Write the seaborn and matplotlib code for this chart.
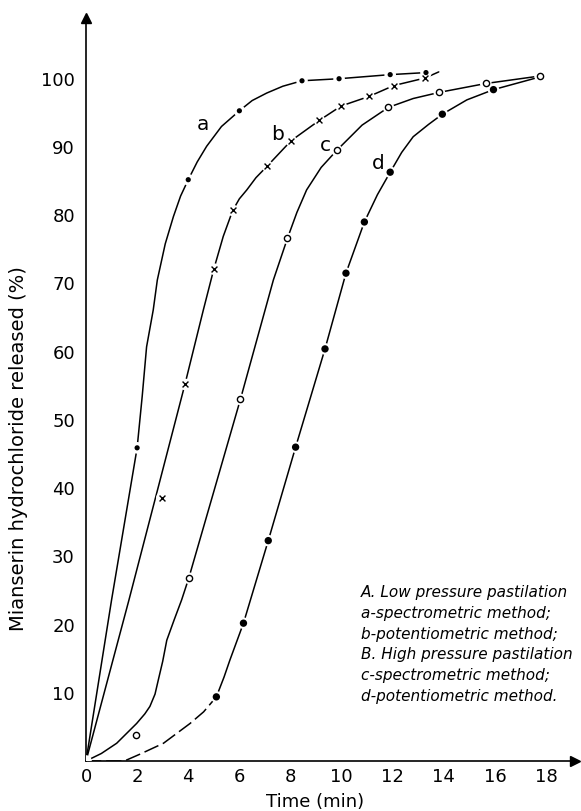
import matplotlib

matplotlib.use("Agg")

import matplotlib.pyplot as plt
import seaborn as sns

# measured points (time in min, % released)
A_T = [0, 2, 4, 6, 8.45, 9.9, 11.9, 13.3]
A_V = [0, 45.9, 85.2, 95.3, 99.7, 100.0, 100.6, 100.9]
B_T = [2.97, 3.87, 5.0, 5.74, 7.09, 8.02, 9.13, 9.98, 11.07, 12.04, 13.26]
B_V = [38.6, 55.2, 72.1, 80.7, 87.2, 90.9, 93.9, 96.0, 97.4, 99.0, 100.1]
C_T = [1.97, 4.02, 6.04, 7.88, 9.81, 11.83, 13.82, 15.64, 17.76]
C_V = [3.8, 26.8, 53.0, 76.6, 89.5, 95.8, 98.0, 99.3, 100.4]
D_T = [5.1, 6.16, 7.13, 8.2, 9.35, 10.17, 10.89, 11.9, 13.94, 15.94]
D_V = [9.4, 20.2, 32.3, 46.0, 60.4, 71.5, 79.0, 86.3, 94.8, 98.4]

# hand-drawn fitted curves
A_CURVE_T = [0, 1.0, 2, 2.2, 2.37, 2.63, 2.79, 3.1, 3.42, 3.7, 4, 4.35, 4.72, 5.3, 6, 6.5, 7.07, 7.7, 8.45, 9.9, 11.9, 13.3]
A_CURVE_V = [0, 23.6, 45.9, 53.5, 60.7, 66.1, 70.5, 75.8, 79.8, 82.8, 85.2, 87.8, 90.1, 93.0, 95.3, 96.8, 97.9, 98.9, 99.7, 100.0, 100.6, 100.9]
B_CURVE_T = [0, 1.68, 2.72, 3.87, 4.59, 5.0, 5.37, 5.74, 6.0, 6.29, 6.65, 7.09, 8.02, 9.13, 9.98, 11.07, 12.04, 13.26, 13.8]
B_CURVE_V = [0, 23.6, 38.6, 55.2, 66.1, 72.1, 76.9, 80.7, 82.4, 83.7, 85.5, 87.2, 90.9, 93.9, 96.0, 97.4, 99.0, 100.1, 101.0]
C_CURVE_T = [0, 0.6, 1.2, 1.98, 2.3, 2.5, 2.7, 2.83, 3.0, 3.16, 3.45, 3.74, 4.02, 5.0, 6.04, 7.33, 7.88, 8.25, 8.63, 9.2, 9.81, 10.8, 11.83, 12.8, 13.82, 15.64, 17.76]
C_CURVE_V = [0, 1.1, 2.6, 5.5, 6.9, 8.0, 9.8, 11.9, 14.6, 17.7, 20.7, 23.6, 26.8, 39.5, 53.0, 70.5, 76.6, 80.4, 83.7, 87.0, 89.5, 93.2, 95.8, 97.1, 98.0, 99.3, 100.4]
D_LOW_T = [0, 1.5, 2.11, 3.03, 4.07, 4.6, 5.1]
D_LOW_V = [0, 0, 1.0, 2.6, 5.5, 7.2, 9.4]
D_CURVE_T = [5.1, 5.4, 5.63, 6.16, 7.13, 8.2, 9.35, 10.17, 10.89, 11.4, 11.9, 12.35, 12.8, 13.4, 13.94, 14.9, 15.94, 17.6]
D_CURVE_V = [9.4, 12.3, 14.8, 20.2, 32.3, 46.0, 60.4, 71.5, 79.0, 83.0, 86.3, 89.2, 91.5, 93.3, 94.8, 96.9, 98.4, 100.1]

CURVE_LABELS = ["a", "b", "c", "d"]
CURVE_LABEL_T = [4.56, 7.48, 9.35, 11.44]
CURVE_LABEL_V = [93.3, 91.8, 90.2, 87.6]

X_TICKS = [0, 2, 4, 6, 8, 10, 12, 14, 16, 18]
Y_TICKS = [10, 20, 30, 40, 50, 60, 70, 80, 90, 100]

LEGEND_LINES = [
    "A. Low pressure pastilation",
    "a-spectrometric method;",
    "b-potentiometric method;",
    "B. High pressure pastilation",
    "c-spectrometric method;",
    "d-potentiometric method.",
]

sns.set_theme(style="white")
plt.rcParams["font.family"] = ["DejaVu Sans"]
plt.rcParams["lines.scale_dashes"] = False
plt.rcParams["text.color"] = "black"
plt.rcParams["axes.labelcolor"] = "black"

fig = plt.figure(figsize=(5.81, 8.11), dpi=100)
ax = fig.add_axes([86 / 581, 50 / 811, 489 / 581, 743 / 811])

LW = 1.1
for t, v in [(A_CURVE_T, A_CURVE_V), (B_CURVE_T, B_CURVE_V), (C_CURVE_T, C_CURVE_V), (D_CURVE_T, D_CURVE_V)]:
    sns.lineplot(x=t, y=v, ax=ax, color="black", linewidth=LW, sort=False, estimator=None, zorder=2)
sns.lineplot(x=D_LOW_T, y=D_LOW_V, ax=ax, color="black", linewidth=LW, sort=False,
             estimator=None, zorder=2)
ax.lines[-1].set_dashes((11, 3.5))

# white halos break the line around each point, as in the drawing
for t, v in [(A_T, A_V), (B_T, B_V), (C_T, C_V), (D_T, D_V)]:
    sns.scatterplot(x=t, y=v, ax=ax, s=70, color="white", edgecolor="none", zorder=3)

sns.scatterplot(x=A_T[1:], y=A_V[1:], ax=ax, s=14, color="black", edgecolor="none", zorder=4)
sns.scatterplot(x=B_T, y=B_V, ax=ax, s=18, marker="x", color="black", linewidth=1.0, zorder=4)
sns.scatterplot(x=C_T, y=C_V, ax=ax, s=20, color="white", edgecolor="black", linewidth=1.0, zorder=4)
sns.scatterplot(x=D_T, y=D_V, ax=ax, s=28, color="black", edgecolor="none", zorder=4)

for lab, t, v in zip(CURVE_LABELS, CURVE_LABEL_T, CURVE_LABEL_V):
    ax.text(t, v, lab, fontsize=14.5, ha="center", va="center", color="black")

ax.set_xlim(0, 19.13)
ax.set_ylim(0, 108.9)
ax.set_xticks(X_TICKS)
ax.set_yticks(Y_TICKS)
ax.tick_params(direction="in", length=6, width=1, labelsize=13, colors="black")
ax.tick_params(axis="x", pad=5)
ax.tick_params(axis="y", pad=8)
for side in ["top", "right"]:
    ax.spines[side].set_visible(False)
for side in ["left", "bottom"]:
    ax.spines[side].set_color("black")
    ax.spines[side].set_linewidth(1.2)

ax.plot(1, 0, ">", color="black", ms=7, transform=ax.transAxes, clip_on=False)
ax.plot(0, 1, "^", color="black", ms=7, transform=ax.transAxes, clip_on=False)

ax.set_xlabel("Time (min)", fontsize=13, color="black")
ax.set_ylabel("Mianserin hydrochloride released (%)", fontsize=14, color="black")
ax.xaxis.set_label_coords(0.468, -0.043)
ax.yaxis.set_label_coords(-0.119, 0.421)

for i, line in enumerate(LEGEND_LINES):
    fig.text(361 / 581, 1 - (593 + i * 20.6) / 811, line, fontsize=11, style="italic",
             va="center", ha="left", color="black")

fig.savefig("out.png", dpi=100)
